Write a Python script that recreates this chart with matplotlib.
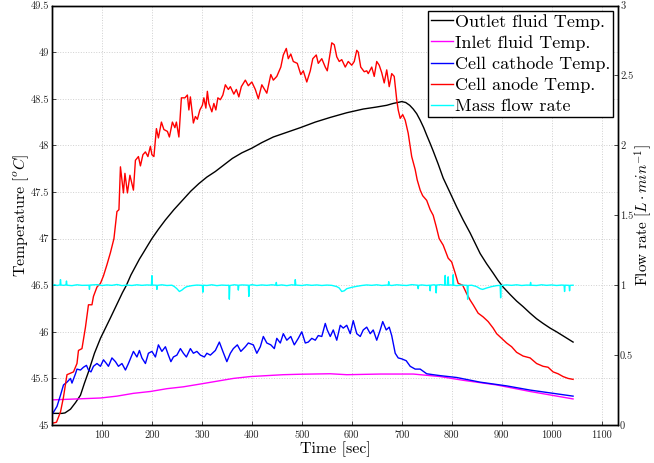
import matplotlib
matplotlib.use("Agg")
import matplotlib.pyplot as plt
from matplotlib.ticker import FuncFormatter

plt.rcParams['font.family'] = 'serif'
plt.rcParams['font.serif'] = ['cmr10']
plt.rcParams['mathtext.fontset'] = 'cm'
plt.rcParams['axes.unicode_minus'] = False
plt.rcParams['axes.formatter.use_mathtext'] = True

# ---------------- data ----------------
anode_t = [1, 9, 17, 23, 30, 43, 50, 53, 60, 67, 73, 80, 83, 90, 97, 103, 110, 117, 124, 130,
           134, 137, 143, 146, 151, 156, 163, 167, 173, 177, 182, 187, 192, 197, 200, 204, 209,
           213, 219, 224, 231, 235, 241, 246, 249, 254, 259, 266, 271, 274, 277, 283, 287, 291,
           296, 301, 304, 308, 311, 314, 320, 324, 328, 332, 337, 342, 347, 353, 357, 364, 369,
           374, 379, 387, 393, 400, 407, 413, 420, 430, 438, 443, 450, 458, 463, 469, 473, 478,
           483, 491, 498, 503, 510, 517, 522, 529, 533, 540, 547, 551, 555, 560, 565, 570, 575,
           580, 587, 593, 600, 605, 610, 613, 618, 625, 630, 633, 640, 645, 650, 655, 660, 665,
           670, 675, 680, 685, 690, 693, 697, 702, 707, 713, 720, 727, 731, 737, 742, 750, 757,
           763, 769, 775, 783, 793, 800, 807, 813, 822, 830, 837, 843, 853, 863, 873, 883, 890,
           900, 910, 920, 930, 943, 957, 970, 983, 993, 1003, 1013, 1023, 1033, 1043]
anode_T = [45.02, 45.03, 45.14, 45.30, 45.54, 45.57, 45.66, 45.80, 45.82, 46.05, 46.29, 46.29,
           46.38, 46.48, 46.52, 46.60, 46.72, 46.85, 47.00, 47.29, 47.31, 47.77, 47.49, 47.70,
           47.49, 47.68, 47.52, 47.84, 47.88, 47.78, 47.90, 47.93, 47.88, 47.99, 47.90, 47.88,
           48.18, 48.08, 48.25, 48.17, 48.15, 48.09, 48.25, 48.19, 48.25, 48.09, 48.51, 48.51,
           48.54, 48.38, 48.52, 48.24, 48.31, 48.28, 48.38, 48.43, 48.51, 48.40, 48.58, 48.45,
           48.36, 48.45, 48.38, 48.51, 48.49, 48.54, 48.65, 48.60, 48.63, 48.55, 48.60, 48.52,
           48.63, 48.70, 48.64, 48.68, 48.60, 48.50, 48.65, 48.56, 48.76, 48.70, 48.74, 48.84,
           48.97, 49.04, 48.93, 48.98, 48.90, 48.88, 48.76, 48.80, 48.68, 48.80, 48.93, 48.97,
           48.88, 48.93, 48.84, 48.80, 48.93, 49.10, 49.08, 48.95, 48.90, 48.92, 48.84, 48.90,
           48.86, 48.90, 49.02, 49.00, 48.84, 48.79, 48.80, 48.77, 48.84, 48.74, 48.90, 48.86,
           48.78, 48.67, 48.81, 48.63, 48.77, 48.74, 48.49, 48.38, 48.29, 48.33, 48.27, 48.13,
           47.88, 47.74, 47.63, 47.52, 47.46, 47.41, 47.31, 47.25, 47.13, 47.00, 46.93, 46.79,
           46.75, 46.63, 46.52, 46.50, 46.41, 46.34, 46.29, 46.20, 46.16, 46.11, 46.04, 45.98,
           45.93, 45.88, 45.84, 45.78, 45.74, 45.72, 45.66, 45.63, 45.62, 45.57, 45.55, 45.52,
           45.50, 45.49]

outlet_t = [1, 10, 20, 26, 37, 47, 57, 65, 73, 85, 97, 107, 117, 125, 133, 141, 149, 158, 167,
            175, 183, 192, 200, 213, 227, 244, 261, 278, 294, 310, 327, 344, 361, 380, 400, 420,
            443, 470, 497, 527, 557, 590, 623, 648, 670, 683, 692, 700, 708, 716, 723, 730, 737,
            744, 750, 757, 763, 773, 783, 797, 810, 823, 837, 847, 857, 870, 883, 893, 903, 917,
            930, 943, 957, 970, 983, 997, 1010, 1025, 1043]
outlet_T = [45.125, 45.125, 45.125, 45.13, 45.17, 45.24, 45.32, 45.45, 45.57, 45.77, 45.93,
            46.04, 46.15, 46.24, 46.33, 46.42, 46.50, 46.61, 46.70, 46.78, 46.85, 46.93, 47.00,
            47.10, 47.20, 47.31, 47.41, 47.51, 47.59, 47.66, 47.72, 47.79, 47.86, 47.92, 47.97,
            48.03, 48.09, 48.14, 48.19, 48.25, 48.30, 48.35, 48.39, 48.41, 48.43, 48.45, 48.46,
            48.47, 48.46, 48.43, 48.39, 48.34, 48.27, 48.19, 48.11, 48.02, 47.94, 47.80, 47.65,
            47.49, 47.34, 47.20, 47.06, 46.95, 46.84, 46.73, 46.63, 46.55, 46.48, 46.40, 46.33,
            46.27, 46.20, 46.14, 46.09, 46.04, 46.00, 45.95, 45.89]

inlet_t = [1, 50, 97, 130, 163, 197, 230, 263, 297, 330, 363, 397, 430, 463, 497, 557, 590,
           657, 723, 777, 823, 890, 957, 1043]
inlet_T = [45.27, 45.28, 45.29, 45.31, 45.34, 45.36, 45.39, 45.41, 45.44, 45.47, 45.50, 45.52,
           45.53, 45.54, 45.545, 45.55, 45.54, 45.547, 45.547, 45.52, 45.48, 45.43, 45.36, 45.28]

cathode_t = [1, 10, 17, 23, 30, 37, 40, 47, 50, 57, 63, 69, 73, 78, 83, 90, 97, 103, 109, 113,
             120, 127, 133, 140, 147, 153, 163, 170, 175, 180, 187, 193, 200, 207, 213, 220, 227,
             233, 238, 243, 250, 257, 263, 269, 277, 283, 290, 297, 305, 310, 317, 327, 335, 342,
             350, 357, 363, 371, 378, 387, 393, 403, 410, 417, 423, 430, 438, 445, 450, 457, 463,
             470, 478, 485, 493, 500, 507, 513, 520, 527, 533, 540, 547, 551, 557, 563, 570, 577,
             583, 590, 597, 603, 610, 617, 623, 630, 637, 643, 650, 657, 662, 669, 675, 680, 687,
             693, 700, 709, 717, 727, 737, 750, 763, 777, 810, 857, 910, 957, 1043]
cathode_T = [45.12, 45.20, 45.32, 45.43, 45.46, 45.50, 45.45, 45.55, 45.60, 45.59, 45.62, 45.64,
             45.59, 45.57, 45.63, 45.66, 45.63, 45.70, 45.66, 45.63, 45.72, 45.68, 45.63, 45.66,
             45.59, 45.66, 45.79, 45.73, 45.80, 45.72, 45.66, 45.77, 45.79, 45.73, 45.86, 45.79,
             45.84, 45.75, 45.68, 45.73, 45.75, 45.82, 45.77, 45.73, 45.82, 45.77, 45.79, 45.75,
             45.73, 45.77, 45.75, 45.80, 45.89, 45.79, 45.68, 45.77, 45.82, 45.86, 45.79, 45.84,
             45.88, 45.86, 45.77, 45.84, 45.95, 45.88, 45.86, 45.82, 45.93, 45.88, 45.98, 45.91,
             45.95, 45.86, 45.93, 46.00, 45.88, 45.89, 45.93, 45.91, 45.96, 45.95, 46.09, 46.02,
             45.95, 46.02, 45.91, 46.07, 46.04, 46.07, 45.98, 46.12, 45.98, 45.95, 46.02, 46.05,
             45.98, 46.02, 45.91, 46.02, 46.11, 46.02, 46.05, 45.96, 45.77, 45.72, 45.71, 45.69,
             45.63, 45.60, 45.60, 45.55, 45.54, 45.53, 45.51, 45.46, 45.42, 45.375, 45.31]

flow_t = [2, 5, 10, 16, 17, 18, 24, 28, 29, 30, 40, 50, 60, 74, 75, 76, 90, 100, 110, 120, 130,
          140, 150, 160, 170, 180, 190, 199, 200, 201, 209, 210, 211, 220, 230, 240, 245, 250,
          255, 260, 265, 270, 280, 290, 301, 302, 303, 310, 320, 330, 340, 350, 354, 355, 356,
          365, 372, 373, 374, 380, 393, 394, 395, 400, 410, 420, 430, 440, 448, 449, 450, 460,
          470, 480, 486, 487, 488, 500, 510, 520, 530, 540, 550, 560, 570, 575, 580, 585, 590,
          600, 610, 620, 630, 640, 650, 660, 670, 673, 674, 675, 680, 690, 700, 710, 720, 732,
          733, 734, 740, 750, 756, 757, 758, 765, 768, 769, 770, 778, 786, 787, 788, 792, 793,
          794, 798, 802, 803, 804, 810, 820, 831, 832, 833, 840, 850, 857, 862, 870, 880, 890,
          897, 898, 899, 910, 920, 930, 940, 950, 957, 958, 959, 970, 980, 990, 1000, 1010,
          1020, 1025, 1026, 1027, 1035, 1036, 1037, 1043]
flow_Q = [1.000, 1.004, 0.998, 1.002, 1.040, 1.001, 0.999, 1.003, 1.030, 1.000, 0.997, 1.003,
          0.999, 1.000, 0.970, 1.001, 1.004, 0.998, 1.002, 0.999, 1.005, 0.997, 1.001, 0.998,
          1.003, 0.999, 1.002, 1.000, 1.068, 1.001, 1.000, 0.970, 0.999, 1.003, 0.998, 1.000,
          0.990, 0.975, 0.955, 0.965, 0.980, 0.990, 0.997, 1.001, 0.999, 0.950, 1.000, 0.998,
          1.003, 0.997, 1.001, 0.999, 1.000, 0.900, 0.998, 1.003, 1.000, 0.965, 1.000, 1.002,
          1.000, 0.920, 0.999, 1.004, 0.998, 1.002, 0.999, 1.003, 1.000, 1.020, 0.998, 1.002,
          0.997, 1.003, 1.000, 1.040, 1.001, 0.998, 1.003, 0.999, 1.002, 0.998, 1.001, 0.999,
          0.990, 0.980, 0.955, 0.960, 0.975, 0.985, 0.992, 0.998, 1.002, 0.999, 1.003, 0.998,
          1.001, 1.000, 1.025, 1.001, 0.998, 1.003, 1.000, 0.998, 1.004, 1.000, 0.975, 0.999,
          1.002, 0.998, 1.000, 0.960, 1.000, 1.003, 1.000, 0.945, 1.001, 1.004, 1.000, 1.070,
          1.001, 1.000, 1.060, 1.000, 1.002, 1.000, 1.075, 1.000, 0.997, 1.001, 0.999, 0.900,
          0.998, 1.000, 0.990, 0.975, 0.970, 0.980, 0.990, 0.997, 0.999, 0.910, 0.998, 1.002,
          0.999, 1.003, 0.998, 1.001, 1.000, 1.020, 1.000, 0.998, 1.003, 0.999, 1.002, 0.998,
          1.001, 1.000, 0.955, 1.000, 0.999, 0.960, 0.999, 1.000]

x_ticks = [100, 200, 300, 400, 500, 600, 700, 800, 900, 1000, 1100]
temp_ticks = [45, 45.5, 46, 46.5, 47, 47.5, 48, 48.5, 49, 49.5]
flow_ticks = [0, 0.5, 1, 1.5, 2, 2.5, 3]

# ---------------- figure ----------------
fig = plt.figure(figsize=(6.54, 4.63), dpi=100)
ax = fig.add_axes([0.0795, 0.082, 0.8655, 0.906])
ax2 = ax.twinx()

lw = 1.0
l1, = ax.plot(outlet_t, outlet_T, color='black', lw=lw, label='Outlet fluid Temp.')
l2, = ax.plot(inlet_t, inlet_T, color='#ff00ff', lw=lw, label='Inlet fluid Temp.')
l3, = ax.plot(cathode_t, cathode_T, color='#0000ff', lw=lw, label='Cell cathode Temp.')
l4, = ax.plot(anode_t, anode_T, color='#ff0000', lw=lw, label='Cell anode Temp.')
l5, = ax2.plot(flow_t, flow_Q, color='#00ffff', lw=lw, label='Mass flow rate')

ax.set_xlim(0, 1133)
ax.set_ylim(45, 49.5)
ax2.set_ylim(0, 3)
ax.set_xticks(x_ticks)
ax.set_yticks(temp_ticks)
ax2.set_yticks(flow_ticks)
fmt = FuncFormatter(lambda v, p: '{:g}'.format(v))
ax.xaxis.set_major_formatter(fmt)
ax.yaxis.set_major_formatter(fmt)
ax2.yaxis.set_major_formatter(fmt)

ax.grid(True, linestyle=':', color='#d0d0d0', linewidth=0.7)
for a in (ax, ax2):
    a.tick_params(direction='in', length=3, width=0.6, labelsize=7.5, colors='#262626',
                  labelcolor='#262626', pad=2)
    for s in a.spines.values():
        s.set_linewidth(1.0)
        s.set_color('black')
ax.tick_params(axis='x', pad=4, top=False)
ax2.tick_params(axis='y', pad=1.5)

ax.set_xlabel('Time [sec]', fontsize=11.5, labelpad=1)
ax.set_ylabel(r'Temperature $[^oC]$', fontsize=11.5, labelpad=0)
ax2.set_ylabel(r'Flow rate $[L \cdot min^{-1}]$', fontsize=11, labelpad=-1)

leg = ax2.legend(handles=[l1, l2, l3, l4, l5], loc='upper right', fontsize=13,
                 frameon=True, fancybox=False, framealpha=1, edgecolor='black',
                 borderaxespad=0.3, borderpad=0.15, labelspacing=0.3,
                 handlelength=1.2, handletextpad=0.1)
leg.get_frame().set_linewidth(1.0)

fig.savefig('out.png', dpi=100)
